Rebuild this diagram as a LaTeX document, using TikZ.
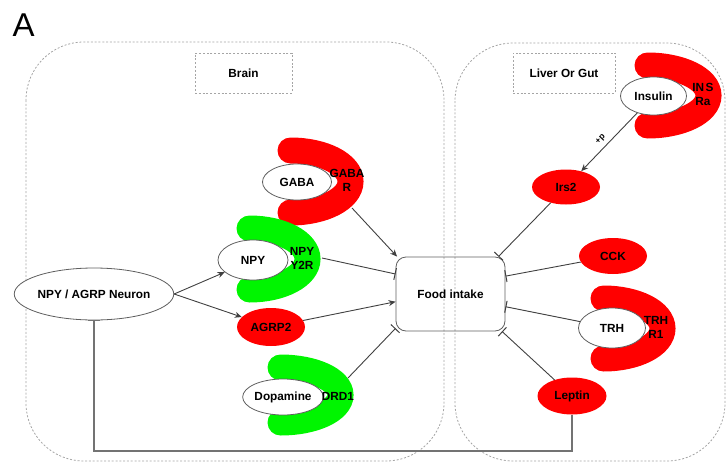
\documentclass[tikz,border=0pt]{standalone}
\usepackage{fontspec}
\setmainfont{Liberation Sans}
\usetikzlibrary{arrows.meta,shapes.geometric}
\definecolor{lnk}{RGB}{64,64,64}
\definecolor{rim}{RGB}{95,95,95}
\definecolor{pane}{RGB}{165,165,165}
\definecolor{rred}{RGB}{255,0,0}
\definecolor{rgreen}{RGB}{0,245,0}
\newcommand\lbl{\fontsize{11.8}{14}\selectfont\bfseries}
% thick C-shaped receptor opening to the left: colour, centre x, centre y, x radius, y radius
\newcommand\rcpArc[5]{%
  \draw[rcp,#1] (#2,#3+#5) arc[start angle=90,end angle=-90,x radius=#4,y radius=#5];}
\tikzset{
  panel/.style={draw=pane, dash pattern=on 2pt off 1.8pt, line width=0.8pt, rounded corners=58pt},
  tagbox/.style={draw=pane, dash pattern=on 2pt off 1.8pt, line width=0.8pt,
    minimum height=40pt, inner sep=0pt, font=\lbl},
  mol/.style={ellipse, draw=rim, line width=0.8pt, fill=white, inner sep=0pt, font=\lbl},
  redmol/.style={ellipse, fill=rred, inner sep=0pt, font=\lbl},
  rcptxt/.style={align=center, inner sep=0pt, font=\lbl},
  rcp/.style={line width=26pt, line cap=round},
  act/.style={draw=lnk, line width=0.9pt, -{Stealth[length=7pt,width=6pt]}},
  inh/.style={draw=lnk, line width=0.9pt, -{Bar[width=12pt,line width=1pt]}},
}
\begin{document}
\begin{tikzpicture}[x=1pt,y=-1pt]
\useasboundingbox (0,0) rectangle (728,463);

\node[anchor=base west, inner sep=0pt, font=\fontsize{33}{33}\selectfont] (panelA) at (12.5,36) {A};

% compartments
\draw[panel] (26,42) rectangle (444,461);
\draw[panel] (455,43) rectangle (725,461);
\node[tagbox, minimum width=97pt] (brain) at (243.5,73) {Brain};
\node[tagbox, minimum width=102pt] (liver) at (564,73) {Liver Or Gut};

% receptors
\rcpArc{rred}{290.5}{181.5}{60}{31}
\rcpArc{rgreen}{249.5}{259}{58}{30.5}
\rcpArc{rgreen}{280.5}{395}{60}{27.5}
\rcpArc{rred}{603.5}{328.5}{59}{30}
\rcpArc{rred}{647.5}{95.5}{61}{30}

% molecules
\node[mol, minimum width=128pt, minimum height=52pt] (neuron) at (94,294) {NPY / AGRP Neuron};
\node[mol, minimum width=70pt, minimum height=40pt] (npy) at (253,260) {NPY};
\node[mol, minimum width=69pt, minimum height=36pt] (gaba) at (297,182) {GABA};
\node[redmol, minimum width=68pt, minimum height=38pt] (agrp) at (271,327) {AGRP2};
\node[mol, minimum width=64pt, minimum height=36pt] (dopa) at (283,397) {Dopamine};
\node[draw=rim, line width=0.8pt, rounded corners=10pt, minimum width=109pt, minimum height=74pt,
  inner sep=0pt, font=\lbl] (food) at (450.5,294) {Food intake};
\node[mol, minimum width=66pt, minimum height=38pt] (insulin) at (653.5,96) {Insulin};
\node[redmol, minimum width=68pt, minimum height=35pt] (irs) at (566,187) {Irs2};
\node[redmol, minimum width=68pt, minimum height=36pt] (cck) at (613,256) {CCK};
\node[mol, minimum width=67pt, minimum height=40pt] (trh) at (612,328) {TRH};
\node[redmol, minimum width=69pt, minimum height=37pt] (leptin) at (572,396) {Leptin};

% receptor names
\node[rcptxt] (gabar) at (347,180) {GABA\\R};
\node[rcptxt] (y2r) at (302,258) {NPY\\Y2R};
\node[rcptxt] (drd) at (338,396) {DRD1};
\node[rcptxt] (trhr) at (656,327) {TRH\\R1};
\node[rcptxt] (insr) at (703,94) {IN\kern1.5pt S\\Ra};

% receptor outlets
\coordinate (gabarOut) at (352,208);
\coordinate (y2rOut) at (322,258);
\coordinate (drdOut) at (348,378);
\coordinate (fbBase) at (94,451);

% signalling
\draw[act] (neuron.east) -- (npy);
\draw[act] (neuron.east) -- (agrp);
\draw[act] (gabarOut) -- (food.145);
\draw[inh] (y2rOut) -- (food.160);
\draw[act] (agrp) -- (food.188);
\draw[inh] (drdOut) -- (food.212);
\draw[act] (insulin) -- node[pos=0.55, sloped, above=4pt, inner sep=0pt,
  font=\fontsize{8.5}{8.5}\selectfont\bfseries] (phos) {+p} (irs);
\draw[inh] (irs) -- (food.38);
\draw[inh] (cck) -- (food.18);
\draw[inh] (trh) -- (food.347);
\draw[inh] (leptin) -- (food.324);

% leptin feedback onto the neuron
\draw[inh, draw=gray!90!black, line width=1.4pt] (leptin.south) |- (fbBase) -- (neuron.south);
\end{tikzpicture}
\end{document}
